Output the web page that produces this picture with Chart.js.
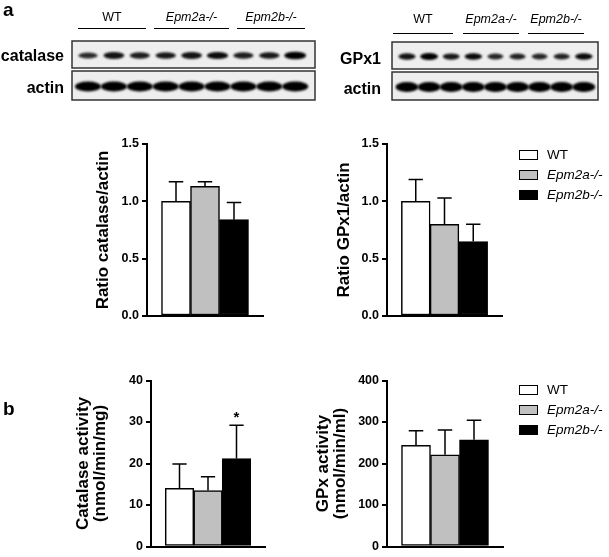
<!DOCTYPE html>
<html>
<head>
<meta charset="utf-8">
<script src="https://cdn.jsdelivr.net/npm/chart.js@4.4.1/dist/chart.umd.min.js"></script>
<style>
  body { margin: 0; background: #fff; }
  #page {
    position: relative;
    width: 609px;
    height: 557px;
    overflow: hidden;
    font-family: "Liberation Sans", Arial, sans-serif;
    color: #000;
  }
  #page canvas, #page .txt, #page .rule, #page .swatch { position: absolute; }
  .txt { white-space: nowrap; line-height: 1; }
  .rule { height: 0; border-top: 1px solid #000; }
  .swatch { box-sizing: border-box; border: 1px solid #000; }
</style>
</head>
<body>
<div id="page">
  <canvas id="blots" width="609" height="110" style="left:0;top:0"></canvas>
  <canvas id="ratioCatalase" width="220" height="200" style="left:60px;top:130px"></canvas>
  <canvas id="ratioGpx1" width="220" height="200" style="left:300px;top:130px"></canvas>
  <canvas id="actCatalase" width="220" height="187" style="left:60px;top:370px"></canvas>
  <canvas id="actGpx" width="220" height="187" style="left:300px;top:370px"></canvas>
</div>

<script>
// groups and colours
const groups = ["WT", "Epm2a-/-", "Epm2b-/-"];
const groupItalic = [false, true, true];
const groupColors = ["#ffffff", "#c0c0c0", "#000000"];

// densitometry ratios (mean, SEM)
const catalaseRatio = [1.0, 1.13, 0.84];
const catalaseRatioErr = [0.17, 0.04, 0.15];
const gpx1Ratio = [1.0, 0.80, 0.65];
const gpx1RatioErr = [0.19, 0.23, 0.15];

// enzyme activities (mean, SEM)
const catalaseActivity = [14.0, 13.5, 21.2];
const catalaseActivityErr = [5.9, 3.3, 8.0];
const catalaseSig = ["", "", "*"];
const gpxActivity = [244, 221, 257];
const gpxActivityErr = [35, 60, 47];

// y axes: [max, step]
const ratioAxis = [1.5, 0.5];
const catalaseAxis = [40, 10];
const gpxAxis = [400, 100];

// relative band strength in the blots, one per lane
const catalaseBands = [0.55, 0.8, 0.7, 0.75, 0.8, 0.9, 0.7, 0.75, 1.0];
const gpx1Bands = [0.8, 1.0, 0.75, 0.9, 0.6, 0.65, 0.6, 0.65, 0.9];
const actinBands = [1, 1, 1, 1, 1, 1, 1, 1, 1];

const FONT = "'Liberation Sans', Arial, sans-serif";
Chart.defaults.font.family = FONT;
Chart.defaults.color = "#000";

const page = document.getElementById("page");

function addText(text, x, y, opts = {}) {
  const el = document.createElement("div");
  el.className = "txt";
  el.textContent = text;
  el.style.left = x + "px";
  el.style.top = y + "px";
  el.style.fontSize = (opts.size || 13) + "px";
  el.style.fontWeight = opts.bold ? "bold" : "normal";
  el.style.fontStyle = opts.italic ? "italic" : "normal";
  const ax = opts.align === "right" ? "-100%" : opts.align === "left" ? "0" : "-50%";
  el.style.transform = `translate(${ax}, -50%)`;
  page.appendChild(el);
}

function addRule(x1, x2, y) {
  const el = document.createElement("div");
  el.className = "rule";
  el.style.left = x1 + "px";
  el.style.width = x2 - x1 + "px";
  el.style.top = y + "px";
  page.appendChild(el);
}

// ---- western blots (plain canvas) ----
const blotCtx = document.getElementById("blots").getContext("2d");

function drawBlotRow(box, laneX0, laneStep, bands, band) {
  const ctx = blotCtx;
  ctx.save();
  ctx.fillStyle = "#eeeeee";
  ctx.fillRect(box.x, box.y, box.w, box.h);
  ctx.filter = "blur(0.9px)";
  const cy = box.y + box.h / 2 + 1;
  bands.forEach((k, i) => {
    const x = laneX0 + i * laneStep;
    ctx.fillStyle = `rgba(0,0,0,${0.6 + 0.4 * k})`;
    ctx.beginPath();
    ctx.ellipse(x, cy, band.w + band.dw * k, band.h + band.dh * k, 0, 0, Math.PI * 2);
    ctx.fill();
  });
  ctx.filter = "none";
  ctx.strokeStyle = "#333";
  ctx.lineWidth = 1.5;
  ctx.strokeRect(box.x, box.y, box.w, box.h);
  ctx.restore();
}

drawBlotRow({ x: 72, y: 41, w: 243, h: 27 }, 88, 25.9, catalaseBands, { w: 8, dw: 3, h: 2, dh: 1.8 });
drawBlotRow({ x: 72, y: 71, w: 243, h: 29 }, 88, 25.9, actinBands, { w: 12, dw: 1, h: 4.5, dh: 0.5 });
drawBlotRow({ x: 392, y: 42, w: 206, h: 27 }, 407, 22.1, gpx1Bands, { w: 6.5, dw: 2.5, h: 2, dh: 1.5 });
drawBlotRow({ x: 392, y: 72, w: 206, h: 28 }, 407, 22.1, actinBands, { w: 10.5, dw: 1, h: 4.5, dh: 0.5 });

// blot labels and group rules
addText("a", 3, 9, { size: 19, bold: true, align: "left" });
addText("b", 3, 408, { size: 19, bold: true, align: "left" });
addText("catalase", 64, 56, { size: 16, bold: true, align: "right" });
addText("actin", 64, 88, { size: 16, bold: true, align: "right" });
addText("GPx1", 381, 59, { size: 16, bold: true, align: "right" });
addText("actin", 381, 89, { size: 16, bold: true, align: "right" });

const leftSpans = [[78, 146], [154, 229], [237, 305]];
const rightSpans = [[393, 453], [463, 519], [528, 584]];
groups.forEach((g, i) => {
  const [a1, a2] = leftSpans[i];
  addText(g, (a1 + a2) / 2, 17, { size: 12.5, italic: groupItalic[i] });
  addRule(a1, a2, 28);
  const [b1, b2] = rightSpans[i];
  addText(g, (b1 + b2) / 2, 19, { size: 12.5, italic: groupItalic[i] });
  addRule(b1, b2, 33);
});

// legends
function addLegend(top) {
  groups.forEach((g, i) => {
    const y = top + i * 20;
    const sw = document.createElement("div");
    sw.className = "swatch";
    sw.style.left = "519px";
    sw.style.top = y - 5 + "px";
    sw.style.width = "19px";
    sw.style.height = "10px";
    sw.style.background = groupColors[i];
    page.appendChild(sw);
    addText(g, 547, y, { size: 13.5, italic: groupItalic[i], align: "left" });
  });
}
addLegend(155);
addLegend(390);

// ---- bar charts ----
const errorBars = {
  id: "errorBars",
  afterDatasetsDraw(chart, args, opts) {
    const { ctx } = chart;
    const y = chart.scales.y;
    const meta = chart.getDatasetMeta(0);
    const values = chart.data.datasets[0].data;
    ctx.save();
    ctx.strokeStyle = "#000";
    ctx.lineWidth = 1.5;
    meta.data.forEach((bar, i) => {
      const v = values[i];
      const e = opts.errors[i];
      if (v == null || e == null) return;
      const top = y.getPixelForValue(v + e);
      const half = bar.width / 4;
      ctx.beginPath();
      ctx.moveTo(bar.x, bar.y);
      ctx.lineTo(bar.x, top);
      ctx.moveTo(bar.x - half, top);
      ctx.lineTo(bar.x + half, top);
      ctx.stroke();
      const mark = opts.marks && opts.marks[i];
      if (mark) {
        ctx.fillStyle = "#000";
        ctx.font = `bold 15px ${FONT}`;
        ctx.textAlign = "center";
        ctx.textBaseline = "alphabetic";
        ctx.fillText(mark, bar.x, top - 3);
      }
    });
    ctx.restore();
  },
};

function makeBarChart(id, values, errors, axis, title, layout, opts = {}) {
  const pad = (arr) => [null, ...arr, null];
  const [max, step] = axis;
  new Chart(document.getElementById(id), {
    type: "bar",
    data: {
      labels: ["", ...groups, ""],
      datasets: [
        {
          data: pad(values),
          backgroundColor: ["#fff", ...groupColors, "#fff"],
          borderColor: "#000",
          borderWidth: 1.5,
          borderSkipped: false,
          barPercentage: 1,
          categoryPercentage: 1,
        },
      ],
    },
    options: {
      responsive: false,
      animation: false,
      events: [],
      layout: { padding: { top: layout.top, right: layout.right, bottom: layout.bottom, left: 0 } },
      plugins: {
        legend: { display: false },
        tooltip: { enabled: false },
        errorBars: { errors: pad(errors), marks: opts.marks ? pad(opts.marks) : null },
      },
      scales: {
        x: {
          type: "category",
          offset: false,
          grid: { display: false, drawTicks: false },
          ticks: { display: false },
          border: { display: true, color: "#000", width: 2 },
          afterFit: (s) => { s.height = 0; },
        },
        y: {
          min: 0,
          max: max,
          ticks: {
            stepSize: step,
            padding: 3,
            color: "#000",
            font: { size: 12.5, weight: "bold" },
            callback: (v) => (opts.decimals ? Number(v).toFixed(opts.decimals) : v),
          },
          grid: { drawOnChartArea: false, drawTicks: true, tickLength: 5, color: "#000", lineWidth: 2 },
          border: { display: true, color: "#000", width: 2 },
          title: {
            display: true,
            text: title,
            color: "#000",
            font: { size: 17, weight: "bold", lineHeight: layout.lineHeight },
            padding: { top: layout.titlePad, bottom: 0 },
          },
          afterFit: (s) => { s.width = layout.axisX; },
        },
      },
    },
    plugins: [errorBars],
  });
}

makeBarChart("ratioCatalase", catalaseRatio, catalaseRatioErr, ratioAxis, "Ratio catalase/actin",
  { top: 14, right: 17, bottom: 14, axisX: 87, titlePad: 33, lineHeight: 1.2 }, { decimals: 1 });
makeBarChart("ratioGpx1", gpx1Ratio, gpx1RatioErr, ratioAxis, "Ratio GPx1/actin",
  { top: 14, right: 18, bottom: 14, axisX: 87, titlePad: 34, lineHeight: 1.2 }, { decimals: 1 });
makeBarChart("actCatalase", catalaseActivity, catalaseActivityErr, catalaseAxis,
  ["Catalase activity", "(nmol/min/mg)"],
  { top: 8, right: 15, bottom: 5, axisX: 91, titlePad: 15, lineHeight: 1.0 }, { marks: catalaseSig });
makeBarChart("actGpx", gpxActivity, gpxActivityErr, gpxAxis,
  ["GPx activity", "(nmol/min/ml)"],
  { top: 9, right: 17, bottom: 5, axisX: 87, titlePad: 14, lineHeight: 1.05 });
</script>
</body>
</html>
